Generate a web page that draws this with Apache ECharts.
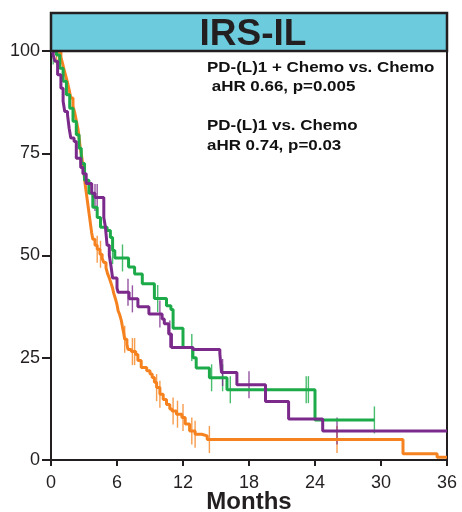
<!DOCTYPE html>
<html>
<head>
<meta charset="utf-8">
<script src="https://cdn.jsdelivr.net/npm/echarts@6/dist/echarts.min.js"></script>
<style>
html,body{margin:0;padding:0;background:#fff;}
#c{width:462px;height:512px;}
</style>
</head>
<body>
<div id="c"></div>
<script>
// ---- data (months, survival %) ----
const xTicks = [0, 6, 12, 18, 24, 30, 36];
const yTicks = [0, 25, 50, 75, 100];

// Chemo (orange)
const chemoT = [0, 0.9, 1.05, 1.2, 1.35, 1.5, 1.65, 1.8, 2.0, 2.15, 2.3, 2.45, 2.55, 2.65, 2.8, 2.9, 3.0, 3.1, 3.2, 3.3, 3.4, 3.5, 3.6, 3.7, 3.8, 4.0, 4.2, 4.45, 4.65, 4.8, 5.0, 5.15, 5.3, 5.45, 5.6, 5.7, 5.85, 6.0, 6.1, 6.25, 6.4, 6.5, 6.6, 6.7, 6.9, 7.0, 7.3, 7.7, 7.9, 8.2, 8.7, 9.0, 9.2, 9.4, 9.6, 9.9, 10.2, 10.5, 10.8, 11.0, 11.4, 11.9, 12.2, 12.6, 13.1, 13.7, 14.2, 32.0, 35.1, 36];
const chemoS = [100, 98.5, 97, 95.3, 93.8, 92.3, 90.5, 88.5, 86.5, 85, 83, 81, 79, 76.5, 74, 72, 70, 67.5, 65.5, 63.5, 61.5, 59.5, 57.5, 55.5, 54, 52.5, 51.5, 50.3, 49.3, 48.3, 47, 45.5, 44.5, 43.3, 42, 40.8, 39.5, 38, 36.5, 35.5, 34, 32.5, 31.2, 29.5, 28.3, 27, 26.5, 25.8, 24.3, 22.6, 21.8, 21, 20.2, 19, 17.7, 16.1, 14.8, 13.6, 12.5, 12, 11.2, 10.4, 8.8, 7.1, 6.3, 5.9, 5.0, 1.5, 0.7, 0.7];
const chemoCensor = [0.5, 0.7, 4.2, 4.5, 6.7, 7.4, 7.6, 9.6, 9.9, 11.1, 11.5, 12.0, 12.8, 13.1, 14.4, 26.0];

// PD-(L)1 + Chemo (green)
const comboT = [0, 0.5, 0.8, 1.1, 1.4, 1.7, 2.0, 2.3, 2.55, 2.75, 3.05, 3.45, 3.8, 4.2, 4.5, 5.1, 5.4, 5.6, 5.8, 7.05, 7.6, 8.3, 9.4, 10.5, 10.9, 11.1, 12.0, 12.9, 13.2, 14.4, 16.0, 24.0, 29.4];
const comboS = [100, 99, 95.8, 92.6, 89.3, 86, 82.8, 79.5, 76.2, 72.5, 68.4, 65.2, 61.8, 59.3, 56.9, 56.1, 54.4, 51.2, 49.4, 47.2, 45.5, 43.1, 39.5, 37.7, 36.8, 32.2, 27.5, 25, 22.5, 20.1, 17.2, 9.8, 9.8];
const comboCensor = [0.2, 5.6, 6.5, 9.7, 12.8, 14.6, 15.6, 16.3, 23.2, 23.4, 29.4];

// PD-(L)1 (purple)
const pdT = [0, 0.2, 0.35, 0.6, 0.9, 1.1, 1.25, 1.5, 1.65, 1.8, 2.1, 2.3, 2.7, 2.9, 3.2, 3.7, 4.0, 4.8, 4.95, 5.1, 5.3, 5.45, 5.6, 6.0, 6.1, 7.1, 7.9, 8.9, 10.1, 10.3, 10.7, 10.95, 12.9, 15.35, 15.5, 16.9, 19.5, 21.6, 24.7, 36];
const pdS = [100, 99, 97.5, 94.2, 90.9, 87.7, 85.2, 84.4, 81.1, 78.7, 77.9, 73.8, 71.5, 70, 67.6, 65.2, 64.2, 59.3, 56.9, 52.5, 50, 47.5, 44.5, 42, 41, 39.4, 37.5, 35.7, 34.5, 33.3, 30.8, 27.5, 27.0, 26, 21.4, 18.4, 14.3, 10, 7.1, 7.1];
const pdCensor = [4.0, 4.2, 7.0, 7.4, 9.9, 10.8, 15.6, 18.0, 26.0];

// annotation texts
const titleText = 'IRS-IL';
const noteLines = ['PD-(L)1 + Chemo vs. Chemo', ' aHR 0.66, p=0.005', 'PD-(L)1 vs. Chemo', 'aHR 0.74, p=0.03'];
const xName = 'Months';

// ---- build ----
const ORANGE = '#f5821f', GREEN = '#1dab4a', PURPLE = '#7b2a8b';
const INK = '#231f20';
const FONT = 'Arial, "Liberation Sans", Helvetica, sans-serif';
function pairs(T, S) { return T.map((t, i) => [t, S[i]]); }
function survAt(T, S, t) { let v = S[0]; for (let i = 0; i < T.length; i++) { if (T[i] <= t) v = S[i]; } return v; }
function censorPts(C, T, S) { return C.map(t => [t, survAt(T, S, t)]); }

function lineSeries(T, S, color) {
  return { type: 'line', step: 'end', data: pairs(T, S), showSymbol: false, symbol: 'none',
    lineStyle: { color: color, width: 3 }, silent: true, animation: false, z: 3 };
}
function tickSeries(C, T, S, color) {
  return { type: 'scatter', data: censorPts(C, T, S), symbol: 'rect', symbolSize: [1.4, 27],
    itemStyle: { color: color, opacity: 0.8 }, silent: true, animation: false, z: 2 };
}
function note(text, y) {
  return { type: 'text', x: 207, y: y, z: 11, scaleX: 1.13,
    style: { text: text, fontFamily: FONT, fontWeight: 'bold', fontSize: 15, fill: '#111', align: 'left', verticalAlign: 'middle' } };
}

const chart = echarts.init(document.getElementById('c'), null, { renderer: 'canvas' });
chart.setOption({
  animation: false,
  grid: { left: 51, right: 15, top: 51, bottom: 52, show: true, borderColor: INK, borderWidth: 2,
    containLabel: false, outerBoundsMode: 'none' },
  xAxis: {
    type: 'value', min: 0, max: 36, interval: 6,
    name: xName, nameLocation: 'middle', nameGap: 30, nameMoveOverlap: false,
    nameTextStyle: { fontFamily: FONT, fontWeight: 'bold', fontSize: 24, color: INK },
    axisLine: { show: true, lineStyle: { color: INK, width: 2 } },
    axisTick: { show: true, length: 6, lineStyle: { color: INK, width: 2 } },
    axisLabel: { fontFamily: FONT, fontSize: 18, color: INK, margin: 14,
      formatter: v => xTicks.indexOf(v) >= 0 ? String(v) : '' },
    splitLine: { show: false }
  },
  yAxis: {
    type: 'value', min: 0, max: 100, interval: 25,
    axisLine: { show: true, lineStyle: { color: INK, width: 2 } },
    axisTick: { show: true, length: 9, lineStyle: { color: INK, width: 2 } },
    axisLabel: { fontFamily: FONT, fontSize: 18, color: INK, margin: 11,
      formatter: v => yTicks.indexOf(v) >= 0 ? String(v) : '' },
    splitLine: { show: false }
  },
  series: [
    tickSeries(chemoCensor, chemoT, chemoS, ORANGE),
    lineSeries(chemoT, chemoS, ORANGE),
    tickSeries(comboCensor, comboT, comboS, GREEN),
    lineSeries(comboT, comboS, GREEN),
    tickSeries(pdCensor, pdT, pdS, PURPLE),
    lineSeries(pdT, pdS, PURPLE)
  ],
  graphic: [
    { type: 'rect', shape: { x: 51, y: 13, width: 396, height: 38 },
      style: { fill: '#6ccbdc', stroke: INK, lineWidth: 2.5 }, z: 10 },
    { type: 'text', x: 253, y: 35, z: 11,
      style: { text: titleText, fontFamily: FONT, fontWeight: 'bold', fontSize: 37, fill: INK, align: 'center', verticalAlign: 'middle' } },
    note(noteLines[0], 68),
    note(noteLines[1], 87),
    note(noteLines[2], 126),
    note(noteLines[3], 146)
  ]
});
</script>
</body>
</html>
